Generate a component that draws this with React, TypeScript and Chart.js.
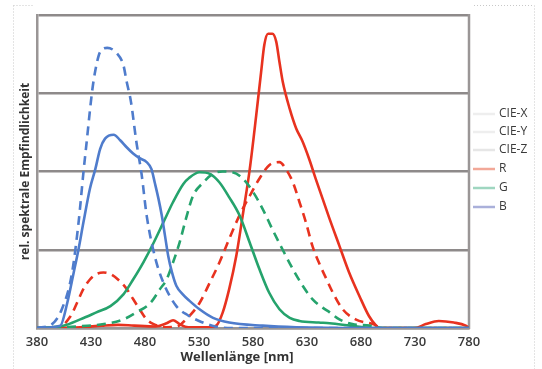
import React, { useEffect, useRef } from "react";
import { Chart, registerables } from "chart.js";

Chart.register(...registerables);

// Wavelength ticks (nm)
const xTicks = [380, 430, 480, 530, 580, 630, 680, 730, 780];

// CIE-X (red dashed)
const wlCieX = [380, 398.5, 411, 417, 423, 429, 435, 441.5, 448, 455, 463, 469, 475, 481.5, 488, 500, 510, 515, 521, 530.5, 540, 549, 558, 567.5, 577, 586, 595, 604.5, 610.5, 617, 623, 629, 635, 641.5, 647.5, 654, 663, 675, 691, 700, 780];
const valCieX = [0, 0, 0.15, 0.32, 0.5, 0.62, 0.69, 0.71, 0.69, 0.62, 0.5, 0.37, 0.24, 0.11, 0.05, 0.01, 0.02, 0.07, 0.15, 0.32, 0.58, 0.84, 1.14, 1.44, 1.69, 1.91, 2.08, 2.12, 2.03, 1.86, 1.61, 1.35, 1.05, 0.82, 0.64, 0.45, 0.24, 0.11, 0.05, 0, 0];

// CIE-Y (green dashed)
const wlCieY = [380, 417, 442, 460, 472, 485, 494, 500, 506, 512, 518, 524.5, 534, 543, 552, 561, 570.5, 580, 589, 598, 607.5, 617, 626, 635, 644.5, 651, 660, 672, 688, 700, 780];
const valCieY = [0, 0.02, 0.05, 0.11, 0.2, 0.32, 0.5, 0.62, 0.84, 1.09, 1.4, 1.69, 1.86, 1.97, 2.0, 1.99, 1.91, 1.74, 1.52, 1.26, 1.0, 0.75, 0.54, 0.37, 0.26, 0.2, 0.11, 0.05, 0.03, 0, 0];

// CIE-Z (blue dashed)
const wlCieZ = [380, 394, 403, 412, 418.5, 423, 426, 431, 434, 438.5, 445, 454, 460, 463, 467, 472, 477, 481.5, 489, 497, 509, 520, 530, 545, 560, 780];
const valCieZ = [0, 0.05, 0.24, 0.67, 1.35, 1.99, 2.38, 3.02, 3.29, 3.53, 3.58, 3.51, 3.36, 3.15, 2.89, 2.38, 1.95, 1.44, 0.92, 0.58, 0.28, 0.16, 0.09, 0.02, 0, 0];

// R (red solid)
const wlR = [380, 420, 440, 455, 470, 490, 500, 506, 512, 520, 540, 546, 552, 558, 564.5, 570.5, 577, 583, 587.5, 590.5, 594, 598, 601.5, 604.5, 607.5, 614, 620, 626, 632, 638, 644.5, 650.5, 660, 669, 678.5, 687.5, 694, 697, 730, 740, 752, 766, 777, 780];
const valR = [0, 0.01, 0.03, 0.04, 0.03, 0.02, 0.06, 0.1, 0.05, 0.01, 0.01, 0.03, 0.2, 0.5, 0.92, 1.44, 2.03, 2.72, 3.27, 3.62, 3.76, 3.76, 3.66, 3.4, 3.15, 2.8, 2.55, 2.38, 2.16, 1.91, 1.65, 1.41, 1.05, 0.71, 0.41, 0.15, 0.03, 0, 0, 0.05, 0.09, 0.07, 0.03, 0];

// G (green solid)
const wlG = [380, 404.5, 420, 435, 448, 460, 469, 478.5, 488, 497, 506, 515.5, 521, 530.5, 540, 549, 558, 567.5, 577, 586, 595, 604.5, 614, 623, 641, 651, 670, 690, 780];
const valG = [0, 0.03, 0.11, 0.2, 0.28, 0.43, 0.62, 0.84, 1.09, 1.35, 1.61, 1.84, 1.92, 1.99, 1.97, 1.86, 1.67, 1.44, 1.09, 0.75, 0.45, 0.24, 0.13, 0.09, 0.07, 0.06, 0.03, 0, 0];

// B (blue solid)
const wlB = [380, 401.5, 408, 414, 418.5, 423, 429, 434, 438.5, 443, 451, 457, 463, 469, 475, 481.5, 486, 489, 492.5, 495.5, 498.5, 501.5, 505, 509, 515, 521, 530.5, 543, 558, 589, 620, 680, 780];
const valB = [0, 0.03, 0.32, 0.71, 1.01, 1.35, 1.78, 2.03, 2.29, 2.42, 2.47, 2.4, 2.31, 2.23, 2.17, 2.12, 2.03, 1.86, 1.65, 1.44, 1.18, 0.92, 0.71, 0.54, 0.43, 0.35, 0.24, 0.13, 0.07, 0.03, 0.01, 0, 0];

const legendLabels = ["CIE-X", "CIE-Y", "CIE-Z", "R", "G", "B"];
const legendColors = ["#eeeeee", "#eeeeee", "#e6e6e6", "#f2a898", "#9fd6c0", "#aab0da"];

const RED = "#e8321f";
const GREEN = "#25a36c";
const BLUE = "#4f7ccc";

const toPts = (xs: number[], ys: number[]) => xs.map((x, i) => ({ x, y: ys[i] }));

const decorPlugin = {
  id: "decor",
  beforeDraw(chart: any) {
    const ctx = chart.ctx;
    ctx.save();
    ctx.strokeStyle = "#c8c8c8";
    ctx.lineWidth = 1;
    ctx.setLineDash([1, 2]);
    ctx.beginPath();
    ctx.moveTo(13.5, 5.5); ctx.lineTo(33, 5.5);
    ctx.moveTo(474, 5.5); ctx.lineTo(534, 5.5);
    ctx.moveTo(13.5, 5.5); ctx.lineTo(13.5, 369);
    ctx.moveTo(534.5, 5.5); ctx.lineTo(534.5, 369);
    ctx.stroke();
    ctx.restore();
  },
  beforeDatasetsDraw(chart: any) {
    const { ctx, chartArea } = chart;
    ctx.save();
    ctx.strokeStyle = "#9a9696";
    ctx.lineWidth = 2.5;
    ctx.beginPath();
    ctx.moveTo(chartArea.right, chartArea.top - 1);
    ctx.lineTo(chartArea.right, chartArea.bottom + 1);
    ctx.stroke();
    ctx.restore();
  },
  afterDraw(chart: any) {
    const { ctx, chartArea } = chart;
    ctx.save();
    // x axis title
    ctx.fillStyle = "#333333";
    ctx.font = "bold 13px 'Open Sans'";
    ctx.textAlign = "center";
    ctx.textBaseline = "middle";
    ctx.fillText("Wellenlänge [nm]", 237, 357);
    // legend
    const x0 = chartArea.right + 4;
    const ys = [114, 132, 150, 169, 188, 207];
    ctx.font = "12px 'Open Sans'";
    ctx.textAlign = "left";
    legendLabels.forEach((lab, i) => {
      ctx.strokeStyle = legendColors[i];
      ctx.lineWidth = 2.5;
      ctx.beginPath();
      ctx.moveTo(x0, ys[i]);
      ctx.lineTo(x0 + 22, ys[i]);
      ctx.stroke();
      ctx.fillStyle = "#3a3a3a";
      ctx.fillText(lab, x0 + 26, ys[i]);
    });
    ctx.restore();
  },
};

export default function App() {
  const ref = useRef<HTMLCanvasElement | null>(null);
  useEffect(() => {
    if (!ref.current) return;
    const dash = [9, 6];
    const common = {
      borderWidth: 2.6,
      pointRadius: 0,
      fill: false,
      cubicInterpolationMode: "monotone" as const,
    };
    const chart = new Chart(ref.current, {
      type: "line",
      data: {
        datasets: [
          { label: "CIE-Z", data: toPts(wlCieZ, valCieZ), borderColor: BLUE, borderDash: dash, ...common },
          { label: "B", data: toPts(wlB, valB), borderColor: BLUE, ...common },
          { label: "CIE-Y", data: toPts(wlCieY, valCieY), borderColor: GREEN, borderDash: dash, ...common },
          { label: "G", data: toPts(wlG, valG), borderColor: GREEN, ...common },
          { label: "CIE-X", data: toPts(wlCieX, valCieX), borderColor: RED, borderDash: dash, ...common },
          { label: "R", data: toPts(wlR, valR), borderColor: RED, ...common },
        ],
      },
      options: {
        animation: false,
        responsive: true,
        maintainAspectRatio: false,
        layout: { padding: { top: 15, right: 73, left: 0, bottom: 0 } },
        plugins: { legend: { display: false }, tooltip: { enabled: false } },
        scales: {
          x: {
            type: "linear",
            min: 380,
            max: 780,
            afterBuildTicks: (scale: any) => {
              scale.ticks = xTicks.map((v) => ({ value: v }));
            },
            afterFit: (scale: any) => {
              scale.height = 41;
            },
            grid: { display: false, drawTicks: false },
            border: { display: true, color: "#9a9696", width: 2.5 },
            ticks: {
              padding: 6,
              color: "#3a3a3a",
              font: { family: "'Open Sans'", size: 13, weight: "600" },
              maxRotation: 0,
            },
          },
          y: {
            min: 0,
            max: 4,
            afterFit: (scale: any) => {
              scale.width = 37;
            },
            ticks: { display: false, stepSize: 1 },
            grid: { color: "#8e8a8a", lineWidth: 2.5, drawTicks: false },
            border: { display: true, color: "#9a9696", width: 2.5 },
            title: {
              display: true,
              text: "rel. spektrale Empfindlichkeit",
              color: "#333333",
              font: { family: "'Open Sans'", size: 12, weight: "bold" },
              padding: { top: 18, bottom: 0 },
            },
          },
        },
      },
      plugins: [decorPlugin],
    });
    return () => chart.destroy();
  }, []);
  return (
    <div style={{ position: "absolute", left: 0, top: 0, width: 542, height: 369, background: "#fff" }}>
      <canvas ref={ref} />
    </div>
  );
}
